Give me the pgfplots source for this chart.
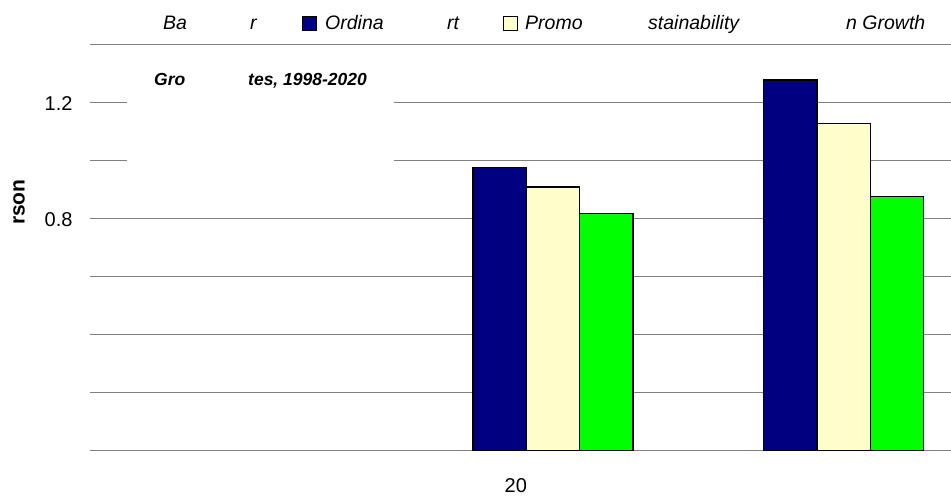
\documentclass[border=0pt]{standalone}
\usepackage{fontspec}
\setmainfont{Liberation Sans}
\usepackage{pgfplots}
\pgfplotsset{compat=1.18}
\definecolor{navybar}{RGB}{0,0,128}
\definecolor{lightyel}{RGB}{255,255,204}
\definecolor{greenbar}{RGB}{0,255,0}
\definecolor{gridgray}{RGB}{128,128,128}
\begin{document}
\begin{tikzpicture}[x=1pt,y=1pt]
\useasboundingbox (0,0) rectangle (951,500);
\begin{axis}[
  at={(90pt,49pt)}, anchor=south west,
  width=861pt, height=406pt, scale only axis,
  xmin=-0.594, xmax=2.370, ymin=0, ymax=1.4,
  axis line style={draw=none},
  ybar=0pt, bar width=0.1835,
  ytick={0,0.2,0.4,0.6,0.8,1.0,1.2,1.4},
  yticklabels={,,,,0.8,,1.2,},
  xtick={0.872}, xticklabels={20},
  major tick length=0pt,
  ymajorgrids, grid style={gridgray, line width=1pt},
  /pgf/number format/assume math mode=true,
  ticklabel style={font=\fontsize{20}{23}\selectfont},
  yticklabel style={xshift=-14pt, yshift=-1pt},
  xticklabel style={yshift=-24pt},
  ylabel={rson},
  every axis y label/.style={at={(axis description cs:0,0.613)}, xshift=-71pt, rotate=90, anchor=center, font=\fontsize{21}{24}\selectfont\bfseries},
]
\addplot[fill=navybar, draw=black, line width=1.3pt] coordinates {(1,0.977) (2,1.279)};
\addplot[fill=lightyel, draw=black, line width=1.3pt] coordinates {(1,0.910) (2,1.129)};
\addplot[fill=greenbar, draw=black, line width=1.3pt] coordinates {(1,0.818) (2,0.878)};
\end{axis}
% white box of the (partly hidden) title
\fill[white] (127,300) rectangle (394,445);
\begin{scope}[every node/.style={anchor=base west, inner sep=0pt, font=\fontsize{19.5}{22}\selectfont\itshape}]
\node at (163,470) {Ba};
\node at (250,470) {r};
\filldraw[fill=navybar, draw=black, line width=0.8pt] (302,470) rectangle (316,484);
\node at (325,470) {Ordina};
\node at (447,470) {rt};
\filldraw[fill=lightyel, draw=black, line width=0.8pt] (503,470) rectangle (517,484);
\node at (525,470) {Promo};
\node at (648,470) {stainability};
\node at (846,470) {n Growth};
\end{scope}
\begin{scope}[every node/.style={anchor=base west, inner sep=0pt, font=\fontsize{17.5}{21}\selectfont\bfseries\itshape}]
\node at (154,414) {Gro};
\node at (248,414) {tes, 1998-2020};
\end{scope}
\end{tikzpicture}
\end{document}
